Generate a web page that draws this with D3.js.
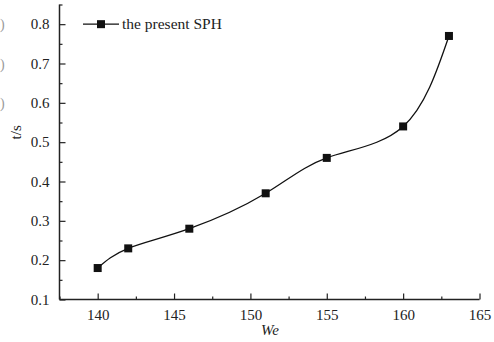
<!DOCTYPE html>
<html><head><meta charset="utf-8">
<script src="https://cdn.jsdelivr.net/npm/d3@7"></script>
<style>body{margin:0;background:#fff}svg{display:block}text{font-family:"Liberation Serif","Times New Roman",serif;fill:#222}</style>
</head><body>
<script>
const weValues = [140, 142, 146, 151, 155, 160, 163];
const timeValues = [0.18, 0.23, 0.28, 0.37, 0.46, 0.54, 0.77];
const xTicks = [140, 145, 150, 155, 160, 165];
const yTicks = [0.1, 0.2, 0.3, 0.4, 0.5, 0.6, 0.7, 0.8];
const seriesName = "the present SPH";
const xLabel = "We";
const yLabel = "t/s";

const W = 494, H = 342;
const svg = d3.select("body").append("svg").attr("width", W).attr("height", H);

const x = d3.scaleLinear().domain([137.5, 165]).range([59.5, 479.5]);
const y = d3.scaleLinear().domain([0.1, 0.85]).range([299.5, 4.5]);

// cropped fragments at left edge
[0.8, 0.7, 0.6].forEach(v => {
  svg.append("text").attr("x", 0).attr("y", y(v) + 5).attr("text-anchor", "start")
    .style("font-size", "14px").style("fill", "#999").text(")");
});

// axes
const xAxis = d3.axisBottom(x).tickValues(xTicks).tickSize(-6).tickPadding(10).tickFormat(d3.format("d"));
const xMinor = d3.axisBottom(x).tickValues(xTicks.map(d => d - 2.5)).tickSize(-3).tickFormat("");
const yAxis = d3.axisLeft(y).tickValues(yTicks).tickSize(-6).tickPadding(10).tickFormat(d3.format(".1f"));
const yMinor = d3.axisLeft(y).tickValues(yTicks.map(d => d + 0.05)).tickSize(-3).tickFormat("");

function style(g) {
  g.select(".domain").attr("stroke", "#222").attr("stroke-width", 1.5);
  g.selectAll(".tick line").attr("stroke", "#222").attr("stroke-width", 1.2);
  g.selectAll(".tick text").style("font-size", "15px").attr("fill", "#222")
    .style("font-family", '"Liberation Serif","Times New Roman",serif');
}
svg.append("g").attr("transform", `translate(0,${y(0.1)})`).call(xAxis).call(style)
  .call(g => g.select(".domain").attr("d", `M${x(137.5)},0H${x(165)}`));
svg.append("g").attr("transform", `translate(0,${y(0.1)})`).call(xMinor).call(style)
  .call(g => g.select(".domain").remove());
svg.append("g").attr("transform", `translate(${x(137.5)},0)`).call(yAxis).call(style)
  .call(g => g.select(".domain").attr("d", `M0,${y(0.85)}V${y(0.1)}`));
svg.append("g").attr("transform", `translate(${x(137.5)},0)`).call(yMinor).call(style)
  .call(g => g.select(".domain").remove());

// labels
svg.append("text").attr("x", 270).attr("y", 335).attr("text-anchor", "middle")
  .style("font-size", "15px").style("font-style", "italic").text(xLabel);
svg.append("text").attr("transform", `translate(21,${y(0.525)}) rotate(-90)`).attr("text-anchor", "middle")
  .style("font-size", "15px").text(yLabel);

// line
const pts = weValues.map((d, i) => [d, timeValues[i]]);
const line = d3.line().x(d => x(d[0])).y(d => y(d[1])).curve(d3.curveNatural);
svg.append("path").attr("d", line(pts)).attr("fill", "none").attr("stroke", "#111").attr("stroke-width", 1.3);

const ms = 8;
svg.selectAll("rect.m").data(pts).join("rect").attr("class", "m")
  .attr("x", d => x(d[0]) - ms / 2).attr("y", d => y(d[1]) - ms / 2)
  .attr("width", ms).attr("height", ms).attr("fill", "#111");

// legend
const ly = y(0.8);
svg.append("line").attr("x1", 83).attr("x2", 119).attr("y1", ly).attr("y2", ly).attr("stroke", "#111").attr("stroke-width", 1.3);
svg.append("rect").attr("x", 101 - ms / 2).attr("y", ly - ms / 2).attr("width", ms).attr("height", ms).attr("fill", "#111");
svg.append("text").attr("x", 122).attr("y", ly + 5).style("font-size", "15.5px").text(seriesName);
</script>
</body></html>
